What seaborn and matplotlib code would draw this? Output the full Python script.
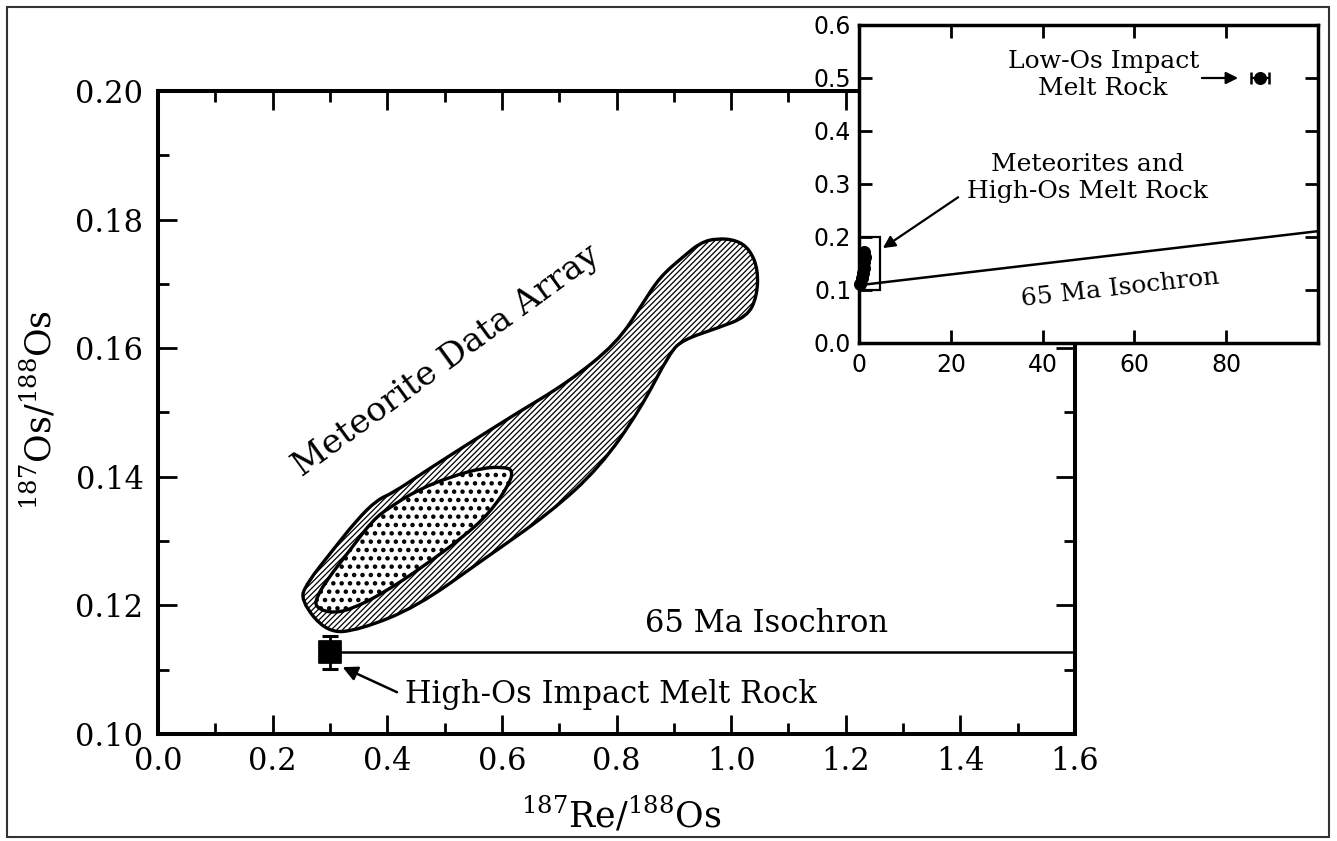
import numpy as np
import pandas as pd
import matplotlib
matplotlib.use("Agg")
import matplotlib.pyplot as plt
from matplotlib.patches import PathPatch, Rectangle
from matplotlib.path import Path
from matplotlib.ticker import MultipleLocator, FixedLocator
import seaborn as sns

# ---------------- data ----------------
# outer (hatched) meteorite data envelope
envelope_x = [0.248, 0.295, 0.352, 0.452, 0.567, 0.684, 0.771, 0.841, 0.893,
              0.916, 0.975, 1.028, 1.045, 1.047, 1.033, 1.010, 0.975, 0.946,
              0.916, 0.876, 0.846, 0.801, 0.714, 0.626, 0.532, 0.462, 0.410,
              0.382, 0.347, 0.305, 0.260]
envelope_y = [0.1208, 0.1157, 0.1162, 0.1198, 0.1271, 0.1344, 0.1415, 0.1504,
              0.1593, 0.1613, 0.1631, 0.1649, 0.1680, 0.1722, 0.1753, 0.1768,
              0.1771, 0.1764, 0.1742, 0.1711, 0.1670, 0.1608, 0.1546, 0.1499,
              0.1446, 0.1406, 0.1375, 0.1364, 0.1333, 0.1286, 0.1235]
# inner (dotted) core of the array
core_x = [0.274, 0.300, 0.335, 0.393, 0.462, 0.532, 0.579, 0.614, 0.619,
          0.602, 0.567, 0.510, 0.452, 0.405, 0.375, 0.335, 0.295, 0.277]
core_y = [0.1198, 0.1188, 0.1193, 0.1219, 0.1260, 0.1306, 0.1344, 0.1390,
          0.1411, 0.1415, 0.1414, 0.1400, 0.1379, 0.1353, 0.1333, 0.1286,
          0.1240, 0.1213]

# High-Os impact melt rock
melt_x = [0.30]
melt_y = [0.1128]
melt_ylo = [0.1101]
melt_yhi = [0.1152]

# 65 Ma isochron (main panel and inset)
iso_main_x = [0.30, 1.60]
iso_main_y = [0.1128, 0.1128]
iso_inset_x = [0.0, 100.0]
iso_inset_y = [0.109, 0.211]

# inset: meteorites + high-Os melt rock cluster
cluster_x = [1.1, 1.2, 1.1, 1.0, 0.9, 0.7, 0.3]
cluster_y = [0.172, 0.162, 0.152, 0.142, 0.132, 0.122, 0.111]
# inset: low-Os impact melt rock
lowos_x = [87.4]
lowos_y = [0.500]
lowos_xerr = [2.0]

main_xticks = [0.0, 0.2, 0.4, 0.6, 0.8, 1.0, 1.2, 1.4, 1.6]
main_xlabels = ["0.0", "0.2", "0.4", "0.6", "0.8", "1.0", "1.2", "1.4", "1.6"]
main_yticks = [0.10, 0.12, 0.14, 0.16, 0.18, 0.20]
main_ylabels = ["0.10", "0.12", "0.14", "0.16", "0.18", "0.20"]
inset_xticks = [0, 20, 40, 60, 80]
inset_xlabels = ["0", "20", "40", "60", "80"]
inset_yticks = [0.0, 0.1, 0.2, 0.3, 0.4, 0.5, 0.6]
inset_ylabels = ["0.0", "0.1", "0.2", "0.3", "0.4", "0.5", "0.6"]

# ---------------- style ----------------
sns.set_theme(style="ticks")
plt.rcParams["font.family"] = ["DejaVu Serif"]
plt.rcParams["mathtext.fontset"] = "dejavuserif"
plt.rcParams["hatch.color"] = "black"
for k in ["text.color", "axes.labelcolor", "xtick.color", "ytick.color",
          "axes.edgecolor"]:
    plt.rcParams[k] = "black"

fig = plt.figure(figsize=(13.37, 8.41), dpi=100)
fig.patch.set_facecolor("white")

W, H = 1337.0, 841.0
def fbox(l, t, r, b):
    return [l / W, 1 - b / H, (r - l) / W, (b - t) / H]

def smooth_outline(xs, ys):
    # closed quadratic-Bezier outline using the traced vertices as control points
    pts = np.column_stack([xs, ys])
    mids = (pts + np.roll(pts, -1, axis=0)) / 2.0
    verts = [mids[-1]]
    codes = [Path.MOVETO]
    for i in range(len(pts)):
        verts += [pts[i], mids[i]]
        codes += [Path.CURVE3, Path.CURVE3]
    return Path(np.array(verts), codes)

ax = fig.add_axes(fbox(158, 91, 1075, 734))
axi = fig.add_axes(fbox(859, 25, 1318, 343))

# ---------------- main panel ----------------
ax.set_xlim(0.0, 1.6)
ax.set_ylim(0.10, 0.20)
for s in ax.spines.values():
    s.set_linewidth(2.9)
    s.set_color("black")

plt.rcParams["hatch.linewidth"] = 0.9
env = PathPatch(smooth_outline(envelope_x, envelope_y),
                facecolor="white", edgecolor="black", hatch="//////",
                linewidth=2.4, joinstyle="round", zorder=2)
if hasattr(env, "set_hatch_linewidth"):
    env.set_hatch_linewidth(0.9)
ax.add_patch(env)
plt.rcParams["hatch.linewidth"] = 2.0
core = PathPatch(smooth_outline(core_x, core_y),
                 facecolor="white", edgecolor="black", hatch="..",
                 linewidth=2.4, joinstyle="round", zorder=3)
if hasattr(core, "set_hatch_linewidth"):
    core.set_hatch_linewidth(2.0)
ax.add_patch(core)

sns.lineplot(x=iso_main_x, y=iso_main_y, ax=ax, color="black", linewidth=1.8,
             zorder=4, legend=False)
ax.errorbar(melt_x, melt_y,
            yerr=[np.subtract(melt_y, melt_ylo), np.subtract(melt_yhi, melt_y)],
            fmt="none", ecolor="black", elinewidth=2.0, capsize=6, capthick=2.2,
            zorder=5)
sns.scatterplot(x=melt_x, y=melt_y, ax=ax, marker="s", s=250, color="black",
                edgecolor="black", zorder=6, legend=False)

ax.annotate("", xy=(0.322, 0.1104), xytext=(0.417, 0.1065),
            arrowprops=dict(arrowstyle="-|>", color="black", lw=1.8,
                            mutation_scale=22, shrinkA=0, shrinkB=0), zorder=6)
ax.text(0.431, 0.1048, "High-Os Impact Melt Rock", fontsize=22,
        ha="left", va="baseline")
ax.text(1.061, 0.1159, "65 Ma Isochron", fontsize=22, ha="center", va="baseline")
ax.text(0.503, 0.1580, "Meteorite Data Array", fontsize=24.5, rotation=36,
        ha="center", va="center", rotation_mode="anchor")

ax.xaxis.set_major_locator(FixedLocator(main_xticks))
ax.set_xticklabels(main_xlabels)
ax.yaxis.set_major_locator(FixedLocator(main_yticks))
ax.set_yticklabels(main_ylabels)
ax.xaxis.set_minor_locator(MultipleLocator(0.1))
ax.yaxis.set_minor_locator(MultipleLocator(0.01))
ax.tick_params(which="both", direction="in", top=True, right=True,
               width=2.0, color="black")
ax.tick_params(which="major", length=14)
ax.tick_params(which="minor", length=8)
ax.tick_params(axis="y", which="major", pad=10.5, labelsize=22)
ax.tick_params(axis="x", which="major", pad=9, labelsize=22)

ax.set_xlabel(r"$^{187}$Re/$^{188}$Os", fontsize=25)
ax.set_ylabel(r"$^{187}$Os/$^{188}$Os", fontsize=25)
ax.xaxis.set_label_coords(0.505, -0.095)
ax.yaxis.set_label_coords(-0.108, 0.504)

# ---------------- inset ----------------
axi.set_facecolor("white")
axi.set_zorder(5)
axi.set_xlim(0, 100)
axi.set_ylim(0.0, 0.6)
for s in axi.spines.values():
    s.set_linewidth(2.5)
    s.set_color("black")

sns.lineplot(x=iso_inset_x, y=iso_inset_y, ax=axi, color="black",
             linewidth=1.8, legend=False, zorder=3)
axi.add_patch(Rectangle((0.0, 0.10), 4.5, 0.10, fill=False,
                        edgecolor="black", linewidth=1.6, zorder=4))
sns.scatterplot(x=cluster_x, y=cluster_y, ax=axi, s=75, color="black",
                edgecolor="black", zorder=5, legend=False, clip_on=False)
axi.errorbar(lowos_x, lowos_y, xerr=lowos_xerr, fmt="none", ecolor="black",
             elinewidth=1.6, capsize=4.5, capthick=1.8, zorder=5)
sns.scatterplot(x=lowos_x, y=lowos_y, ax=axi, s=75, color="black",
                edgecolor="black", zorder=6, legend=False)

axi.annotate("", xy=(82.6, 0.500), xytext=(74.7, 0.500),
             arrowprops=dict(arrowstyle="-|>", color="black", lw=1.6,
                             mutation_scale=18, shrinkA=0, shrinkB=0))
axi.annotate("", xy=(5.2, 0.179), xytext=(21.6, 0.275),
             arrowprops=dict(arrowstyle="-|>", color="black", lw=1.6,
                             mutation_scale=18, shrinkA=0, shrinkB=0))
axi.text(53.2, 0.506, "Low-Os Impact\nMelt Rock", fontsize=18,
         ha="center", va="center", multialignment="center", linespacing=1.25)
axi.text(49.7, 0.311, "Meteorites and\nHigh-Os Melt Rock", fontsize=18,
         ha="center", va="center", multialignment="center", linespacing=1.25)
axi.text(56.9, 0.103, "65 Ma Isochron", fontsize=18, rotation=6.5,
         ha="center", va="center", rotation_mode="anchor")

axi.xaxis.set_major_locator(FixedLocator(inset_xticks))
axi.set_xticklabels(inset_xlabels)
axi.yaxis.set_major_locator(FixedLocator(inset_yticks))
axi.set_yticklabels(inset_ylabels)
axi.tick_params(which="major", direction="in", top=True, right=True,
                width=2.0, length=9.5, color="black", labelsize=17)
axi.tick_params(axis="y", pad=5.5)
axi.tick_params(axis="x", pad=7)
for lab in axi.get_xticklabels() + axi.get_yticklabels():
    lab.set_fontfamily("DejaVu Sans")

# ---------------- outer frame ----------------
fig.add_artist(Rectangle((7 / W, 1 - 837 / H), (1329 - 7) / W, (837 - 7) / H,
                         transform=fig.transFigure, fill=False,
                         edgecolor="#333333", linewidth=1.5))

fig.savefig("out.png", dpi=100)
